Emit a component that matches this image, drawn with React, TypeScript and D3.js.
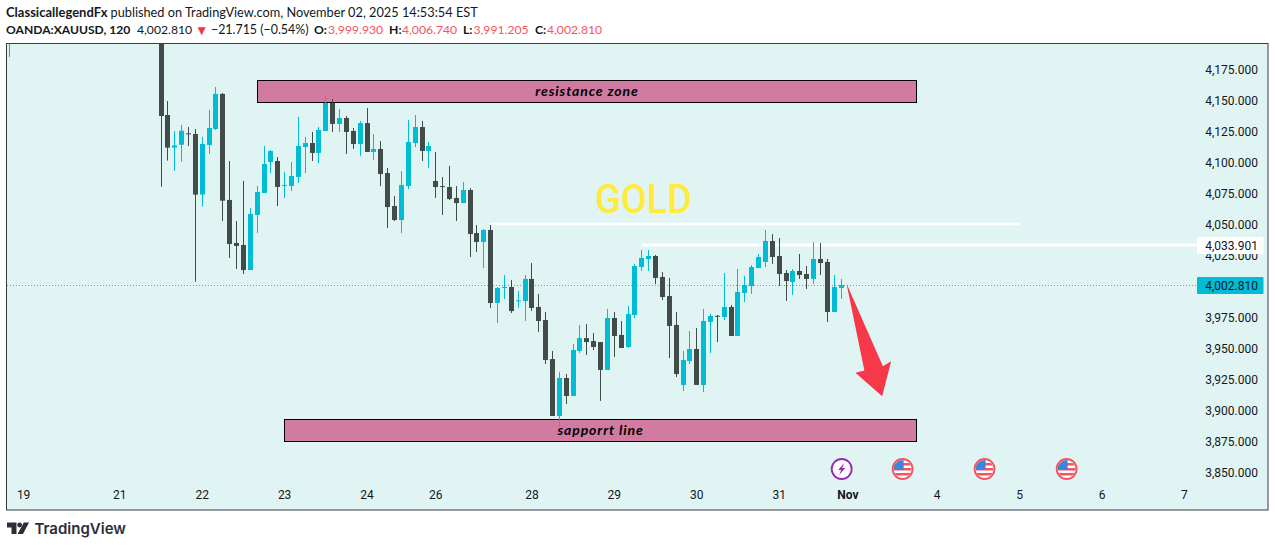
import React, { useEffect, useRef } from 'react';
import * as d3 from 'd3';

// two hour bars
const opens = [
  4215, 4137.9, 4111.6, 4113.9, 4123.1, 4122.6, 4073.7, 4113.7, 4126.6, 4154.9,
  4069.4, 4034.7, 4033.1, 4012.9, 4057.3, 4075, 4100, 4100.8, 4080.7, 4080.7,
  4087.9, 4112.1, 4115.3, 4107.3, 4125, 4147.6, 4130.7, 4135.5, 4125, 4114.5,
  4131.4, 4108.1, 4110.5, 4091.1, 4064.5, 4053.2, 4080.6, 4115.3, 4128.2, 4108.9,
  4084.7, 4080.6, 4079.8, 4071, 4066.9, 4077.4, 4042.7, 4035.5, 4045.2, 3986.3,
  3998.7, 3999.2, 3987.9, 3987.9, 4005.7, 3983.1, 3972.6, 3941.1, 3895.2, 3925.8,
  3911.3, 3947.6, 3958, 3955.6, 3954.8, 3932.3, 3974.2, 3960.5, 3950.8, 3976.6,
  4015.3, 4021.8, 4024.2, 4007.3, 3991.9, 3968.6, 3920.2, 3939.5, 3949.2, 3920.2,
  3971, 3976, 3975, 3983.1, 3959.7, 3994.4, 4000, 4014.5, 4019.4, 4036.3,
  4024.2, 4010.5, 4003.2, 4012.1, 4009.7, 4005.7, 4021.8, 4019.4, 3979, 3998.4,
];
const highs = [
  4240, 4149.2, 4125, 4129.9, 4128.2, 4126.6, 4120.2, 4142, 4160.5, 4155.7,
  4100.8, 4052.4, 4084.7, 4062.9, 4080.7, 4112.9, 4109.7, 4104, 4092, 4100,
  4136.3, 4120.2, 4124.2, 4128.2, 4153.2, 4150.8, 4142.7, 4137.1, 4127.4, 4133,
  4143.5, 4122.6, 4116.9, 4095.2, 4072.6, 4092.7, 4133.9, 4137.9, 4133.1, 4116.1,
  4108.1, 4087.9, 4096.8, 4080.6, 4083.9, 4079, 4049.2, 4046, 4049.2, 3999.2,
  4008.9, 4004.8, 3996, 4008.9, 4018.5, 3993.6, 3979, 3947.6, 3930.7, 3929,
  3953.2, 3968.5, 3969.3, 3962.1, 3954.8, 3981.5, 3979, 3971.8, 3983.9, 4017.7,
  4029, 4029, 4025, 4011.3, 4006.5, 3979, 3947.6, 3963.7, 3966.1, 3981.5,
  3977.4, 3976.6, 4010.5, 3984.7, 4013.7, 4008.1, 4016.9, 4025.8, 4045.2, 4041.9,
  4038.7, 4012.9, 4013.7, 4025.8, 4016.1, 4035.5, 4034.7, 4021.8, 4008.9, 4005.7,
];
const lows = [
  4080.1, 4101.1, 4093, 4100.3, 4112.9, 4003.5, 4064, 4106.5, 4125.8, 4052.4,
  4022.6, 4013.7, 4009.7, 4012.9, 4042.8, 4075, 4091.1, 4064.5, 4071, 4076.6,
  4083.1, 4091.1, 4100.8, 4099.2, 4125, 4124.2, 4124.2, 4106.5, 4110.5, 4104.8,
  4108.1, 4101.6, 4080.6, 4046.8, 4052.4, 4042.7, 4078.2, 4112.1, 4100.8, 4095.2,
  4071, 4057.3, 4069.4, 4052.4, 4066.9, 4023.4, 4027.4, 4014.5, 3982.3, 3970.2,
  3989.5, 3978.2, 3982.3, 3971.8, 3979.8, 3962.9, 3937.1, 3895.2, 3886.6, 3904.8,
  3911.3, 3946, 3944.4, 3948.4, 3907.3, 3932.3, 3942.8, 3950, 3950, 3974.2,
  4012.1, 4012.1, 4001.6, 3988.7, 3941.9, 3926.6, 3915.3, 3937.1, 3920.2, 3914.5,
  3946, 3954.8, 3972.6, 3959.7, 3959.7, 3987.1, 3993.6, 4014.5, 4015.3, 4017.8,
  4000, 3987.9, 3992.8, 4005.7, 3997.6, 4001.6, 4008.9, 3971, 3979, 3989.7,
];
const closes = [
  4137.1, 4111.6, 4113.4, 4125.2, 4122.6, 4073.7, 4114.5, 4127.4, 4154.9, 4068.8,
  4033.9, 4032.3, 4012.9, 4058.1, 4075.8, 4098.4, 4108.9, 4079.9, 4081.5, 4088.7,
  4112.9, 4115.3, 4107.3, 4125.8, 4147.6, 4130.7, 4135.5, 4124.2, 4114.5, 4131.4,
  4108.1, 4110.5, 4090.3, 4063.7, 4053.2, 4081.4, 4116.1, 4128.2, 4108.9, 4112.9,
  4079.8, 4080.1, 4070.2, 4066.9, 4077.4, 4041.9, 4035.5, 4045.2, 3986.3, 3998.4,
  3999.2, 3979.8, 3988.4, 4005.7, 3982.3, 3971.8, 3940.3, 3895.2, 3925.8, 3911.3,
  3948.4, 3958, 3954.8, 3950.8, 3932.3, 3974.2, 3959.7, 3950, 3977.4, 4016.1,
  4022.6, 4024.2, 4006.5, 3991.1, 3967.8, 3929, 3940.3, 3949.2, 3920.2, 3971.8,
  3975.8, 3975.5, 3983.1, 3959.7, 3995.2, 4000.8, 4015.3, 4023.4, 4036.3, 4023.4,
  4009.7, 4004, 4012.1, 4008.9, 4005.7, 4021.8, 4018.5, 3979, 3999.2, 4000.8,
];

// lone wick poking in at the top left, the bars between are above the visible range
const earlyWick = { bar: -22, high: 4260, low: 4184.7 };

// 4,000.000 is left out: the last price label covers it
const priceTicks = [4175, 4150, 4125, 4100, 4075, 4050, 4025, 3975, 3950, 3925, 3900, 3875, 3850];
const dayBars = [-20, -6, 6, 18, 30, 40, 54, 66, 78, 90, 100, 113, 125, 137, 149];
const dayLabels = ['19', '21', '22', '23', '24', '26', '28', '29', '30', '31', 'Nov', '4', '5', '6', '7'];

const lastPrice = closes[closes.length - 1];
const drawnLevel = 4033.1;
const upperLevel = 4050;

// annotations in [bar, price]
const resistanceZone = { from: 14.05, to: 110, top: 4166, bottom: 4148.4, label: 'resistance zone' };
const supportZone = { from: 18, to: 110, top: 3892.7, bottom: 3875, label: 'sapporrt line' };
const arrowShape: [number, number][] = [
  [99.8, 4002],
  [105.1, 3935.3],
  [106.3, 3939.4],
  [105, 3911],
  [101.1, 3930],
  [102.4, 3931.9],
];
const eventBars = [99.1, 107.97, 119.9, 131.85];

const colors = {
  up: '#00bcd4',
  down: '#434a4a',
  plot: '#e1f4f4',
  zone: '#d17ba2',
  text: '#131722',
  red: '#f23645',
  axisFont: 'Roboto, sans-serif',
};

const App: React.FC = () => {
  const svgRef = useRef<SVGSVGElement>(null);

  useEffect(() => {
    if (!svgRef.current) return;

    const svg = d3.select(svgRef.current);
    svg.selectAll('*').remove();

    const plot = { left: 6.5, top: 43.5, right: 1268, bottom: 510 };
    const axisLeft = 1197;

    const x = d3.scaleLinear().domain([0, 99]).range([161, 841]);
    const y = d3.scaleLinear().domain([4175, 3850]).range([69, 472]);
    const snap = (v: number) => Math.floor(v) + 0.5;

    svg.append('rect')
      .attr('x', plot.left)
      .attr('y', plot.top)
      .attr('width', plot.right - plot.left)
      .attr('height', plot.bottom - plot.top)
      .attr('fill', colors.plot)
      .attr('stroke', '#363a45')
      .attr('stroke-width', 1);

    svg.append('clipPath')
      .attr('id', 'plot-clip')
      .append('rect')
      .attr('x', plot.left)
      .attr('y', plot.top)
      .attr('width', plot.right - plot.left)
      .attr('height', plot.bottom - plot.top);

    const chart = svg.append('g').attr('clip-path', 'url(#plot-clip)');

    // Header
    const header = svg.append('g').style('font-family', 'Lato, sans-serif');
    const put = (px: number, py: number, str: string, size: number, bold = false, fill = colors.text) =>
      header.append('text')
        .attr('x', px)
        .attr('y', py)
        .attr('fill', fill)
        .attr('font-weight', bold ? 700 : 400)
        .style('font-size', `${size}px`)
        .text(str);

    put(6, 17, 'ClassicallegendFx', 13, true);
    put(110.5, 17, 'published on TradingView.com, November 02, 2025 14:53:54 EST', 12.75);

    put(6, 34, 'OANDA:XAUUSD, 120', 12.1, true);
    put(137, 34, '4,002.810', 12.2);
    put(195, 35, '▼', 13.5, false, colors.red);
    put(211, 34, '−21.715 (−0.54%)', 12.4);
    put(314, 34, 'O:', 12.2, true);
    put(328, 34, '3,999.930', 12.2, false, '#f7525f');
    put(389, 34, 'H:', 12.2, true);
    put(402, 34, '4,006.740', 12.2, false, '#f7525f');
    put(463, 34, 'L:', 12.2, true);
    put(473.5, 34, '3,991.205', 12.2, false, '#f7525f');
    put(535, 34, 'C:', 12.2, true);
    put(547, 34, '4,002.810', 12.2, false, '#f7525f');

    // Zones
    [resistanceZone, supportZone].forEach(z => {
      chart.append('rect')
        .attr('x', snap(x(z.from)))
        .attr('y', snap(y(z.top)))
        .attr('width', Math.round(x(z.to) - x(z.from)))
        .attr('height', Math.round(y(z.bottom) - y(z.top)))
        .attr('fill', colors.zone)
        .attr('stroke', '#000')
        .attr('stroke-width', 1);
    });

    // Level lines
    chart.append('line')
      .attr('x1', x(47.8)).attr('x2', x(125.1))
      .attr('y1', y(upperLevel)).attr('y2', y(upperLevel))
      .attr('stroke', '#fff').attr('stroke-width', 2.5);
    chart.append('line')
      .attr('x1', x(70)).attr('x2', axisLeft)
      .attr('y1', y(drawnLevel)).attr('y2', y(drawnLevel))
      .attr('stroke', '#fff').attr('stroke-width', 3);

    // Last price line
    chart.append('line')
      .attr('x1', 7).attr('x2', axisLeft)
      .attr('y1', snap(y(lastPrice))).attr('y2', snap(y(lastPrice)))
      .attr('stroke', '#00cfe8')
      .attr('stroke-width', 1)
      .attr('stroke-dasharray', '1 2');

    // Early wick
    chart.append('rect')
      .attr('x', Math.floor(x(earlyWick.bar)))
      .attr('y', y(earlyWick.high))
      .attr('width', 1)
      .attr('height', y(earlyWick.low) - y(earlyWick.high))
      .attr('fill', '#5f8f94');

    // Candles
    const bars = d3.range(opens.length);
    const colorOf = (i: number) => (closes[i] >= opens[i] ? colors.up : colors.down);

    chart.selectAll('.wick')
      .data(bars)
      .enter()
      .append('rect')
      .attr('class', 'wick')
      .attr('x', i => Math.floor(x(i)))
      .attr('y', i => y(highs[i]))
      .attr('width', 1)
      .attr('height', i => y(lows[i]) - y(highs[i]))
      .attr('fill', colorOf);

    chart.selectAll('.body')
      .data(bars)
      .enter()
      .append('rect')
      .attr('class', 'body')
      .attr('x', i => Math.floor(x(i)) - 2)
      .attr('y', i => y(Math.max(opens[i], closes[i])))
      .attr('width', 5)
      .attr('height', i => Math.max(1, Math.abs(y(opens[i]) - y(closes[i]))))
      .attr('fill', colorOf);

    // Zone labels sit above the candles
    [resistanceZone, supportZone].forEach(z => {
      svg.append('text')
        .attr('x', (x(z.from) + x(z.to)) / 2)
        .attr('y', (y(z.top) + y(z.bottom)) / 2)
        .attr('dy', '0.35em')
        .attr('text-anchor', 'middle')
        .style('font-family', 'Lato, sans-serif')
        .style('font-size', '14px')
        .style('font-weight', 700)
        .style('font-style', 'italic')
        .style('letter-spacing', '0.9px')
        .attr('fill', '#000')
        .text(z.label);
    });

    // GOLD
    svg.append('text')
      .attr('x', 595)
      .attr('y', 213.3)
      .attr('textLength', 97)
      .attr('lengthAdjust', 'spacingAndGlyphs')
      .style('font-family', 'Roboto, sans-serif')
      .style('font-size', '41px')
      .style('font-weight', 500)
      .attr('fill', '#ffeb3b')
      .text('GOLD');

    // Arrow
    const arrowLine = d3.line<[number, number]>().x(d => x(d[0])).y(d => y(d[1]));
    chart.append('path')
      .attr('d', arrowLine(arrowShape) + 'Z')
      .attr('fill', '#f7374a');

    // Event icons
    const iconY = 469;
    eventBars.forEach((bar, i) => {
      const icon = chart.append('g').attr('transform', `translate(${x(bar)},${iconY})`);
      if (i === 0) {
        icon.append('circle').attr('r', 10).attr('fill', '#fff').attr('stroke', '#9c27b0').attr('stroke-width', 1.8);
        icon.append('path')
          .attr('d', 'M2.5,-6 L-3.5,1 L-0.5,1 L-2.5,6 L3.5,-1 L0.5,-1 Z')
          .attr('fill', '#9c27b0');
      } else {
        const id = `flag-${i}`;
        icon.append('clipPath').attr('id', id).append('circle').attr('r', 9);
        const flag = icon.append('g').attr('clip-path', `url(#${id})`);
        flag.append('rect').attr('x', -9).attr('y', -9).attr('width', 18).attr('height', 18).attr('fill', '#fff');
        d3.range(-6, 9, 5).forEach(s => {
          flag.append('rect').attr('x', -9).attr('y', s).attr('width', 18).attr('height', 2.5).attr('fill', '#f7525f');
        });
        flag.append('rect').attr('x', -9).attr('y', -9).attr('width', 10).attr('height', 10).attr('fill', '#3d85d8');
        icon.append('circle').attr('r', 10).attr('fill', 'none').attr('stroke', '#f7525f').attr('stroke-width', 1.8);
      }
    });

    // Price axis
    const axisFont = svg.append('g')
      .style('font-family', colors.axisFont)
      .style('font-size', '12px')
      .attr('fill', colors.text);

    axisFont.selectAll('.tick-label')
      .data(priceTicks)
      .enter()
      .append('text')
      .attr('class', 'tick-label')
      .attr('x', 1258)
      .attr('y', d => y(d) + 0.6)
      .attr('dy', '0.35em')
      .attr('text-anchor', 'end')
      .text(d => d3.format(',.3f')(d));

    // Time axis
    axisFont.selectAll('.day-label')
      .data(dayBars)
      .enter()
      .append('text')
      .attr('class', 'day-label')
      .attr('x', d => x(d))
      .attr('y', 494.5)
      .attr('dy', '0.35em')
      .attr('text-anchor', 'middle')
      .attr('font-weight', (_, i) => (dayLabels[i] === 'Nov' ? 700 : 400))
      .text((_, i) => dayLabels[i]);

    // Price labels
    const priceLabel = (value: number, text: string, bg: string) => {
      const cy = Math.round(y(value)) + 0.5;
      svg.append('rect')
        .attr('x', axisLeft)
        .attr('y', cy - 8.5)
        .attr('width', 66.5)
        .attr('height', 17)
        .attr('rx', 1)
        .attr('fill', bg);
      svg.append('text')
        .attr('x', 1258)
        .attr('y', cy)
        .attr('dy', '0.35em')
        .attr('text-anchor', 'end')
        .style('font-family', colors.axisFont)
        .style('font-size', '12px')
        .attr('fill', colors.text)
        .text(text);
    };
    priceLabel(drawnLevel, '4,033.901', '#fff');
    priceLabel(lastPrice, '4,002.810', colors.up);

    // Logo
    const logo = svg.append('g').attr('fill', '#2a2e39');
    logo.append('path').attr('d', 'M7,522.5 H16.5 V534 H11.5 V527.5 H7 Z');
    logo.append('circle').attr('cx', 19.6).attr('cy', 525).attr('r', 2.4);
    logo.append('path').attr('d', 'M23.8,522.5 H29 L23,534 H17.6 Z');
    logo.append('text')
      .attr('x', 34.5)
      .attr('y', 534)
      .style('font-family', 'Inter, sans-serif')
      .style('font-size', '15px')
      .style('font-weight', 600)
      .text('TradingView');
  }, []);

  return (
    <svg
      ref={svgRef}
      width={1275}
      height={547}
      style={{ position: 'absolute', left: 0, top: 0, background: '#fff' }}
    />
  );
};

export default App;
